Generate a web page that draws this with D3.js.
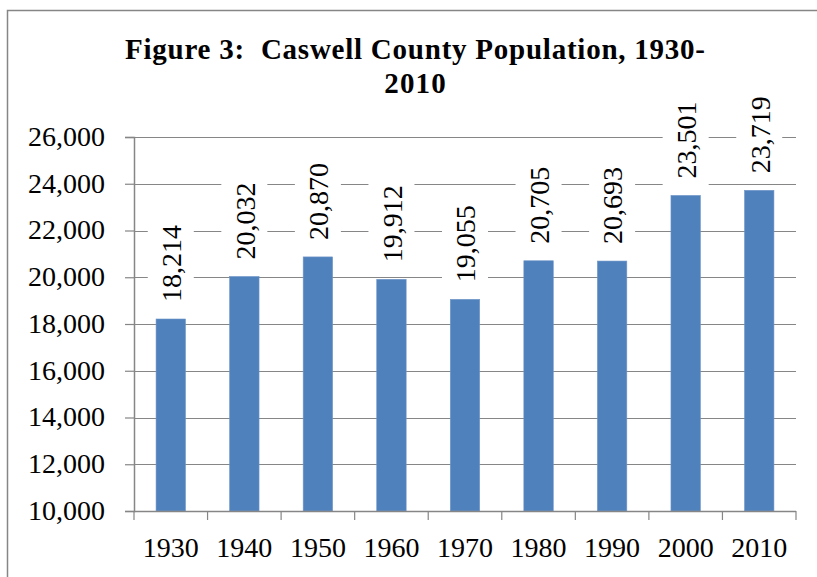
<!DOCTYPE html>
<html>
<head>
<meta charset="utf-8">
<script src="https://d3js.org/d3.v7.min.js"></script>
<style>
  html, body { margin: 0; padding: 0; background: #fff; }
  svg { display: block; }
</style>
</head>
<body>
<svg id="chart" width="817" height="577"></svg>
<script>
const years = ["1930", "1940", "1950", "1960", "1970", "1980", "1990", "2000", "2010"];
const population = [18214, 20032, 20870, 19912, 19055, 20705, 20693, 23501, 23719];
const yTicks = [10000, 12000, 14000, 16000, 18000, 20000, 22000, 24000, 26000];
const titleLines = ["Figure 3:  Caswell County Population, 1930-", "2010"];

(function () {
const svg = d3.select("#chart");
const W = 817, H = 577;
const pLeft = 134, pRight = 796, pTop = 137, pBottom = 511;
const serif = "'Liberation Serif', 'Times New Roman', serif";
const gray = "#868686";
const barColor = "#4F81BD";

svg.append("rect").attr("width", W).attr("height", H).attr("fill", "#fff");

// outer frame
svg.append("rect")
  .attr("x", 7.5).attr("y", 10.5)
  .attr("width", W + 20).attr("height", H + 20)
  .attr("fill", "none").attr("stroke", gray).attr("stroke-width", 1.5);

// title
const title = svg.append("text")
  .attr("text-anchor", "middle")
  .attr("font-family", serif)
  .attr("font-weight", "bold")
  .attr("font-size", 29)
  .attr("fill", "#000")
  .style("white-space", "pre");
const tl1 = title.append("tspan").attr("x", 415).attr("y", 59).text(titleLines[0]);
const tl2 = title.append("tspan").attr("x", 415).attr("y", 93).text(titleLines[1]);
const t1 = tl1.node().getComputedTextLength();
if (t1 < 580) {
  tl1.attr("textLength", 580).attr("lengthAdjust", "spacing");
  const t2 = tl2.node().getComputedTextLength();
  tl2.attr("textLength", t2 * 580 / t1).attr("lengthAdjust", "spacing");
}

const x = d3.scaleBand().domain(years).range([pLeft, pRight]).paddingInner(0.6).paddingOuter(0.3);
const y = d3.scaleLinear().domain([10000, 26000]).range([pBottom, pTop]);
const step = x.step();

// gridlines
svg.append("g").selectAll("line").data(yTicks.slice(1)).join("line")
  .attr("x1", pLeft).attr("x2", pRight)
  .attr("y1", d => Math.round(y(d)) + 0.5).attr("y2", d => Math.round(y(d)) + 0.5)
  .attr("stroke", gray).attr("stroke-width", 1.2);

// y axis
const yAxis = svg.append("g").attr("transform", `translate(${pLeft},0)`)
  .call(d3.axisLeft(y).tickValues(yTicks).tickSize(9).tickPadding(20).tickFormat(d3.format(",")));
yAxis.select(".domain").attr("stroke", gray).attr("stroke-width", 1.5);
yAxis.selectAll(".tick line").attr("stroke", gray).attr("stroke-width", 1.2);
yAxis.selectAll(".tick text").attr("font-family", serif).attr("font-size", 28).attr("fill", "#000").attr("dy", "0.3em");

// bars
svg.append("g").selectAll("rect").data(years).join("rect")
  .attr("x", d => x(d))
  .attr("width", x.bandwidth())
  .attr("y", (d, i) => y(population[i]))
  .attr("height", (d, i) => pBottom - y(population[i]))
  .attr("fill", barColor)
  .attr("stroke", "#7096c8").attr("stroke-width", 0.6);

// x axis
const xg = svg.append("g");
xg.append("line").attr("x1", pLeft).attr("x2", pRight).attr("y1", pBottom + 0.5).attr("y2", pBottom + 0.5)
  .attr("stroke", gray).attr("stroke-width", 1.5);
xg.selectAll("line.tk").data(d3.range(years.length + 1)).join("line").attr("class", "tk")
  .attr("x1", i => pLeft + i * step).attr("x2", i => pLeft + i * step)
  .attr("y1", pBottom).attr("y2", pBottom + 9)
  .attr("stroke", gray).attr("stroke-width", 1.2);
xg.selectAll("text").data(years).join("text")
  .attr("x", d => x(d) + x.bandwidth() / 2)
  .attr("y", 557)
  .attr("text-anchor", "middle")
  .attr("font-family", serif).attr("font-size", 28).attr("fill", "#000")
  .text(d => d);

// value labels with white backgrounds
const lab = svg.append("g").selectAll("g").data(years).join("g");
lab.each(function(d, i) {
  const g = d3.select(this);
  const cx = x(d) + x.bandwidth() / 2;
  const by = y(population[i]);
  const bg = g.append("rect").attr("fill", "#fff");
  const t = g.append("text")
    .attr("transform", `translate(${cx + 10.3},${by - 17}) rotate(-90)`)
    .attr("font-family", serif).attr("font-size", 28).attr("fill", "#000")
    .text(d3.format(",")(population[i]));
  const len = t.node().getComputedTextLength();
  bg.attr("x", cx - 23).attr("width", 46)
    .attr("y", by - 17 - len - 8).attr("height", len + 17);
});
})();
</script>
</body>
</html>
